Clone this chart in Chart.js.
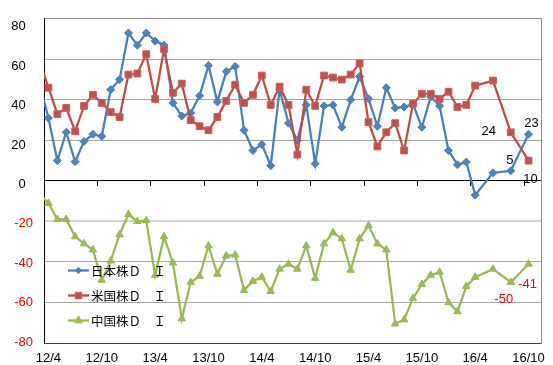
<!DOCTYPE html>
<html>
<head>
<meta charset="utf-8">
<script src="https://cdn.jsdelivr.net/npm/chart.js@4/dist/chart.umd.min.js"></script>
<style>
  html, body { margin: 0; padding: 0; background: #fff; }
  #wrap { width: 553px; height: 365px; }
</style>
</head>
<body>
<div id="wrap"><canvas id="c" width="553" height="365"></canvas></div>
<script>
// Month index: 0 = 2012/4. Index -1 (2012/3) only feeds the segment entering the left edge.
// From 2016/4 the survey is bi-monthly.
const months = [
  -1, 0, 1, 2, 3, 4, 5, 6, 7, 8, 9, 10, 11, 12, 13, 14, 15, 16, 17, 18, 19, 20,
  21, 22, 23, 24, 25, 26, 27, 28, 29, 30, 31, 32, 33, 34, 35, 36, 37, 38, 39, 40,
  41, 42, 43, 44, 45, 46, 47, 48, 50, 52, 54
];

const japanDI = [
  48, 31, 10, 24, 9.5, 19.5, 23, 22, 45, 50, 73, 67, 73, 69, 67, 38.5, 32, 33.5, 42, 57, 39, 54,
  56.5, 25, 15, 18, 7.5, 45, 28.5, 20, 37.5, 8.5, 37, 37.5, 26.5, 40, 51.5, 40.5, 27, 46, 36, 36.5,
  38, 26.5, 41.5, 37, 15, 8, 9.3, -7, 4, 5, 23
];

const usDI = [
  59, 46, 33, 36, 24.5, 37, 42.5, 38.5, 34, 31.5, 52.5, 53, 62.5, 40.5, 65, 43.5, 48, 30, 27, 25, 31.5, 39.5,
  47.5, 38.5, 42.5, 52, 37.5, 46.5, 37.5, 13, 45, 37, 52, 51, 50, 52.5, 58, 29, 17, 24, 28.5, 15,
  38, 43, 43, 40.5, 44, 36.5, 37.5, 47, 49.5, 24, 10
];

const chinaDI = [
  -6.5, -11, -19, -19, -27.5, -31, -34, -49, -39.5, -26.5, -16.5, -20, -19.5, -46.5, -27.5, -40.5, -68, -50, -47, -32, -46, -37,
  -36.5, -54, -49.5, -47.5, -54.5, -43.5, -41, -43.5, -32, -48, -31, -25.5, -28.5, -44, -28.5, -22, -31, -34, -70.5, -68.5,
  -58, -51, -46.5, -45, -60, -64.5, -52, -47.5, -43.5, -50, -41
];

const seriesNames = ['日本株Ｄ　Ｉ', '米国株Ｄ　Ｉ', '中国株Ｄ　Ｉ'];

const monthLabels = ['12/4', '12/10', '13/4', '13/10', '14/4', '14/10', '15/4', '15/10', '16/4', '16/10'];
const labelMonths = [0, 6, 12, 18, 24, 30, 36, 42, 48, 54];
const boundaryMonths = [5.5, 11.5, 17.5, 23.5, 29.5, 35.5, 41.5, 47.5, 53.5];
const yTicks = [80, 60, 40, 20, 0, -20, -40, -60, -80];

// Values printed next to the latest two readings
const valueLabels = [
  { series: 1, month: 52, dx: -22, dy: -1,  color: '#000000' },
  { series: 1, month: 54, dx: 2,   dy: 19,  color: '#000000' },
  { series: 0, month: 52, dx: -1,  dy: -10, color: '#000000' },
  { series: 0, month: 54, dx: 3,   dy: -11, color: '#000000' },
  { series: 2, month: 52, dx: -7,  dy: 17,  color: '#ff0000' },
  { series: 2, month: 54, dx: -1,  dy: 20,  color: '#ff0000' }
];

const toPoints = vals => months.map((m, i) => ({ x: m, y: vals[i] }));

Chart.defaults.font.family = '"Liberation Sans", Arial, sans-serif';
Chart.defaults.font.size = 13;
Chart.defaults.color = '#000';

const legendInside = {
  id: 'legendInside',
  afterDraw(chart) {
    const ctx = chart.ctx;
    chart.data.datasets.forEach((ds, i) => {
      const y = 270.5 + 25 * i;
      ctx.save();
      ctx.strokeStyle = ds.borderColor;
      ctx.lineWidth = 2.25;
      ctx.beginPath();
      ctx.moveTo(68, y);
      ctx.lineTo(89, y);
      ctx.stroke();
      ctx.fillStyle = ds.pointBackgroundColor;
      ctx.strokeStyle = ds.pointBorderColor;
      ctx.lineWidth = 1;
      Chart.helpers.drawPoint(ctx, {
        pointStyle: ds.pointStyle,
        radius: ds.legendRadius,
        borderWidth: 1,
        rotation: 0
      }, 78.5, y);
      ctx.fillStyle = '#000';
      ctx.font = '12.5px "Noto Sans CJK JP", sans-serif';
      ctx.textBaseline = 'middle';
      ctx.textAlign = 'left';
      ctx.fillText(ds.label, 91, y + 1);
      ctx.restore();
    });
  }
};

const pointValues = {
  id: 'pointValues',
  afterDatasetsDraw(chart) {
    const ctx = chart.ctx;
    ctx.save();
    ctx.font = '13px "Liberation Sans", Arial, sans-serif';
    ctx.textAlign = 'center';
    ctx.textBaseline = 'middle';
    valueLabels.forEach(l => {
      const meta = chart.getDatasetMeta(l.series);
      const idx = months.indexOf(l.month);
      const el = meta.data[idx];
      const v = chart.data.datasets[l.series].data[idx].y;
      ctx.fillStyle = l.color;
      ctx.fillText(String(v), el.x + l.dx, el.y + l.dy);
    });
    ctx.restore();
  }
};

new Chart(document.getElementById('c'), {
  type: 'line',
  data: {
    datasets: [
      {
        label: seriesNames[0],
        data: toPoints(japanDI),
        borderColor: '#4a7ebb',
        borderWidth: 2.25,
        pointStyle: 'rectRot',
        pointRadius: 4,
        legendRadius: 3.2,
        pointBackgroundColor: '#4f81bd',
        pointBorderColor: '#4a7ebb',
        pointBorderWidth: 1,
        order: 3,
        clip: 0
      },
      {
        label: seriesNames[1],
        data: toPoints(usDI),
        borderColor: '#be4b48',
        borderWidth: 2.25,
        pointStyle: 'rect',
        pointRadius: 4.8,
        legendRadius: 4.6,
        pointBackgroundColor: '#c0504d',
        pointBorderColor: '#c8615e',
        pointBorderWidth: 1,
        order: 2,
        clip: 0
      },
      {
        label: seriesNames[2],
        data: toPoints(chinaDI),
        borderColor: '#98b954',
        borderWidth: 2.25,
        pointStyle: 'triangle',
        pointRadius: 4.3,
        legendRadius: 4.6,
        pointBackgroundColor: '#9bbb59',
        pointBorderColor: '#98b954',
        pointBorderWidth: 1,
        order: 1,
        clip: 0
      }
    ]
  },
  options: {
    responsive: false,
    animation: false,
    devicePixelRatio: 1,
    layout: { padding: { top: 12, right: 7, left: 0, bottom: 0 } },
    elements: { line: { tension: 0 } },
    plugins: { legend: { display: false }, tooltip: { enabled: false } },
    scales: {
      x: {
        type: 'linear',
        position: { y: 0 },
        min: -0.5,
        max: 55.5,
        afterBuildTicks: s => { s.ticks = boundaryMonths.map(v => ({ value: v })); },
        ticks: { display: false },
        grid: { drawOnChartArea: false, drawTicks: true, tickLength: 5, color: '#000', lineWidth: 1 },
        border: { display: true, color: '#000', width: 1 }
      },
      xb: {
        type: 'linear',
        position: 'bottom',
        min: -0.5,
        max: 55.5,
        afterBuildTicks: s => { s.ticks = labelMonths.map(v => ({ value: v })); },
        ticks: {
          autoSkip: false,
          maxRotation: 0,
          padding: 8,
          color: '#000',
          font: { size: 13 },
          callback: (v, i) => monthLabels[i]
        },
        grid: { display: false, drawTicks: false },
        border: { display: true, color: '#404040', width: 1 },
        afterFit: s => { s.height = 22; }
      },
      y: {
        position: 'left',
        weight: 0,
        min: -80,
        max: 80,
        afterBuildTicks: s => { s.ticks = yTicks.map(v => ({ value: v })); },
        ticks: { display: false },
        grid: {
          drawTicks: false,
          color: c => {
            const v = c.tick && c.tick.value;
            if (v === 80) return '#8c8c8c';
            if (v === 0 || v === -80) return 'rgba(0,0,0,0)';
            if (v === -20) return '#d6d6d6';
            return '#a6a6a6';
          },
          lineWidth: c => (c.tick && c.tick.value === -20 ? 2 : 1)
        },
        border: { display: true, color: '#000', width: 1 },
        afterFit: s => { s.width = 0; }
      },
      yl: {
        position: 'left',
        weight: 1,
        min: -80.5,
        max: 84,
        afterBuildTicks: s => { s.ticks = yTicks.map(v => ({ value: v })); },
        ticks: {
          padding: 11,
          font: { size: 13 },
          color: c => (c.tick && c.tick.value < 0 ? '#ff0000' : '#000000'),
          callback: v => (v >= 0 ? v + '  ' : String(v))
        },
        grid: { display: false, drawTicks: false },
        border: { display: false },
        afterFit: s => { s.width = 44; }
      },
      yr: {
        position: 'right',
        min: -80,
        max: 80,
        afterBuildTicks: s => { s.ticks = []; },
        ticks: { display: false },
        grid: { display: false, drawTicks: false },
        border: { display: true, color: '#8c8c8c', width: 1 },
        afterFit: s => { s.width = 0; }
      }
    }
  },
  plugins: [legendInside, pointValues]
});
</script>
</body>
</html>
